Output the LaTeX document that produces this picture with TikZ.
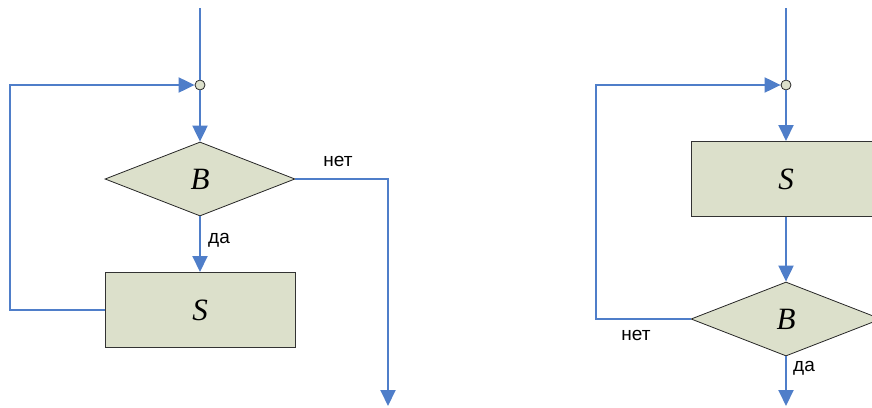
\documentclass[tikz,border=0pt]{standalone}
\usepackage{fontspec}
\setmainfont{Liberation Sans}
\newfontfamily\serifit{Liberation Serif}
\usetikzlibrary{arrows.meta,shapes.geometric}
\definecolor{LineBlue}{HTML}{4F7EC9}
\definecolor{FillOlive}{HTML}{DCE0CB}
\tikzset{
  flow/.style={draw=LineBlue, line width=2pt},
  arr/.style={flow, -{Triangle[length=16pt,width=15pt]}},
  actionbox/.style={rectangle, draw=black!80, fill=FillOlive, line width=1pt,
    minimum width=190pt, minimum height=75pt, inner sep=0pt,
    font=\fontsize{31}{31}\selectfont\serifit\itshape},
  decision/.style={diamond, draw=black!85, fill=FillOlive, line width=0.8pt,
    minimum width=190pt, minimum height=74pt, inner sep=0pt,
    font=\fontsize{31}{31}\selectfont\serifit\itshape},
  joint/.style={circle, draw=black!85, fill=FillOlive, line width=0.8pt,
    minimum size=10pt, inner sep=0pt},
  lbl/.style={font=\fontsize{19}{19}\selectfont, inner sep=0pt}
}
\begin{document}
\begin{tikzpicture}[x=1pt, y=-1pt]
\useasboundingbox (0,0) rectangle (872,407);
\clip (0,0) rectangle (872,407);
% while-do loop
\coordinate (inL) at (200,8);
\node[joint] (jL) at (200,85) {};
\node[decision] (bL) at (200,179) {B};
\node[actionbox] (sL) at (200,310) {S};
\coordinate (outL) at (388,406);
\draw[flow] (inL) -- (jL);
\draw[arr] (jL) -- (bL);
\draw[arr] (bL) -- (sL);
\draw[arr] (sL.west) -- ++(-95,0) |- (jL);
\draw[arr] (bL.east) -| (outL);
\node[lbl] at (338,161) {нет};
\node[lbl] at (219,240) {да};
% do-while loop
\coordinate (inR) at (786,8);
\node[joint] (jR) at (786,85) {};
\node[actionbox] (sR) at (786,179) {S};
\node[decision] (bR) at (786,319) {B};
\coordinate (outR) at (786,406);
\draw[flow] (inR) -- (jR);
\draw[arr] (jR) -- (sR);
\draw[arr] (sR) -- (bR);
\draw[arr] (bR.west) -- ++(-95,0) |- (jR);
\draw[arr] (bR) -- (outR);
\node[lbl] at (636,335) {нет};
\node[lbl] at (804,368) {да};
\end{tikzpicture}
\end{document}
